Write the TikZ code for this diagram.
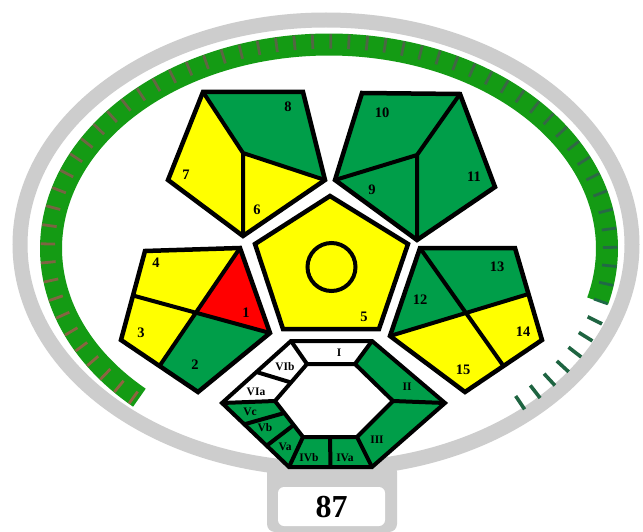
\documentclass[tikz,border=0pt]{standalone}
\usepackage{fontspec}
\setmainfont{Liberation Serif}
\usetikzlibrary{decorations.markings,calc}
\definecolor{cyel}{RGB}{255,255,0}
\definecolor{cgrn}{RGB}{0,158,73}
\definecolor{cred}{RGB}{255,0,0}
\definecolor{bandgreen}{RGB}{20,155,20}
\definecolor{ringgray}{RGB}{205,205,205}
\definecolor{tickL}{RGB}{145,100,65}
\definecolor{tickR}{RGB}{30,105,70}
\definecolor{sepgreen}{RGB}{30,100,65}
\begin{document}
\begin{tikzpicture}[x=1pt,y=-1pt,
  seg/.style={draw=black,line width=4.5pt,line join=miter},
  inl/.style={draw=black,line width=4pt},
  hseg/.style={draw=black,line width=4pt,line join=miter},
  lbl/.style={font=\bfseries\fontsize{14.5}{14.5}\selectfont,inner sep=0pt},
  hlbl/.style={font=\bfseries\fontsize{11.5}{11.5}\selectfont,inner sep=0pt}]
\useasboundingbox (0,0) rectangle (643,532);
\fill[white] (0,0) rectangle (643,532);

% outer gray ring and score box
\draw[ringgray,line width=15pt] (326,244.5) ellipse [x radius=306, y radius=224.5];
\fill[ringgray,rounded corners=8pt] (267,464) rectangle (397,532);
\fill[white,rounded corners=6pt] (278,487) rectangle (385,526);
\node[font=\bfseries\fontsize{32}{32}\selectfont,inner sep=0pt] (score) at (331.5,507) {87};

% green band with ticks
\draw[bandgreen,line width=22pt,
  postaction={decorate,decoration={markings,
    mark=between positions 5pt and 1 step 18pt with {
      \pgfmathsetmacro\tp{min(100,max(0,(\pgfkeysvalueof{/pgf/decoration/mark info/distance from start}/\pgfdecoratedpathlength)*100))}
      \draw[line width=2.8pt,draw=tickR!\tp!tickL] (0pt,-4pt) -- (0pt,10.5pt);}}}]
  plot[domain=0:1,samples=241,variable=\s] ({329+278*cos(227-242*\s)},{248.5-204*sin(227-242*\s)});
% separate ticks
\path[decorate,decoration={markings,
    mark=between positions 18.3pt and 1 step 18.3pt with {
      \draw[line width=3.6pt,sepgreen] (0pt,-3pt) -- (0pt,13pt);}}]
  plot[domain=0:1,samples=61,variable=\s] ({329+278*cos(-15-35*\s)},{248.5-204*sin(-15-35*\s)});

% ---------- pentagon 6-8 ----------
\coordinate (a1) at (203,92); \coordinate (b1) at (303,92); \coordinate (c1) at (325,180);
\coordinate (d1) at (243,236); \coordinate (e1) at (168,180); \coordinate (o1) at (243,153);
\fill[cgrn] (a1)--(b1)--(c1)--(o1)--cycle;
\fill[cyel] (a1)--(o1)--(d1)--(e1)--cycle;
\fill[cyel] (o1)--(c1)--(d1)--cycle;
\draw[inl] (a1)--(o1)--(c1) (o1)--(d1);
\draw[seg] (a1)--(b1)--(c1)--(d1)--(e1)--cycle;
\node[lbl] (n8) at (288,107) {8};
\node[lbl] (n7) at (186,175) {7};
\node[lbl] (n6) at (257,210) {6};

% ---------- pentagon 9-11 ----------
\coordinate (a2) at (362,93); \coordinate (b2) at (460,94); \coordinate (c2) at (495,187);
\coordinate (d2) at (417,240); \coordinate (e2) at (335,180); \coordinate (o2) at (417,155);
\fill[cgrn] (a2)--(b2)--(c2)--(d2)--(e2)--cycle;
\draw[inl] (b2)--(o2)--(e2) (o2)--(d2);
\draw[seg] (a2)--(b2)--(c2)--(d2)--(e2)--cycle;
\node[lbl] (n10) at (382,113) {10};
\node[lbl] (n11) at (474,177) {11};
\node[lbl] (n9) at (372,190) {9};

% ---------- pentagon 1-4 ----------
\coordinate (a3) at (145,251); \coordinate (b3) at (240,248); \coordinate (c3) at (270,333);
\coordinate (d3) at (198,392); \coordinate (e3) at (121,340);
\coordinate (p3) at ($(a3)!0.5!(e3)$); \coordinate (q3) at ($(e3)!0.5!(d3)$);
\coordinate (o3) at (intersection of b3--q3 and c3--p3);
\fill[cred] (b3)--(c3)--(o3)--cycle;
\fill[cgrn] (o3)--(c3)--(d3)--(q3)--cycle;
\fill[cyel] (p3)--(o3)--(q3)--(e3)--cycle;
\fill[cyel] (a3)--(b3)--(o3)--(p3)--cycle;
\draw[inl] (b3)--(q3) (c3)--(p3);
\draw[seg] (a3)--(b3)--(c3)--(d3)--(e3)--cycle;
\node[lbl] (n4) at (156,263) {4};
\node[lbl] (n3) at (141,333) {3};
\node[lbl] (n1) at (246,313) {1};
\node[lbl] (n2) at (195,365) {2};

% ---------- pentagon 12-15 ----------
\coordinate (a4) at (420,248); \coordinate (b4) at (515,248); \coordinate (c4) at (542,340);
\coordinate (d4) at (465,392); \coordinate (e4) at (390,336);
\coordinate (m4) at ($(b4)!0.5!(c4)$); \coordinate (k4) at ($(c4)!0.5!(d4)$);
\coordinate (o4) at (intersection of a4--k4 and e4--m4);
\fill[cgrn] (a4)--(o4)--(e4)--cycle;
\fill[cgrn] (a4)--(b4)--(m4)--(o4)--cycle;
\fill[cyel] (o4)--(m4)--(c4)--(k4)--cycle;
\fill[cyel] (e4)--(o4)--(k4)--(d4)--cycle;
\draw[inl] (a4)--(k4) (e4)--(m4);
\draw[seg] (a4)--(b4)--(c4)--(d4)--(e4)--cycle;
\node[lbl] (n13) at (497,267) {13};
\node[lbl] (n12) at (420,300) {12};
\node[lbl] (n14) at (523,332) {14};
\node[lbl] (n15) at (463,370) {15};

% ---------- centre pentagon 5 ----------
\filldraw[fill=cyel,seg] (330,196)--(408,244)--(379,329)--(283,329)--(255,244)--cycle;
\draw[line width=4pt] (331.5,267) circle[radius=24];
\node[lbl] (n5) at (364,317) {5};

% ---------- hexagon ----------
\coordinate (OTL) at (291,341); \coordinate (OTR) at (372,341); \coordinate (OR) at (445,403);
\coordinate (OBR) at (372,467); \coordinate (OBL) at (289,467); \coordinate (OL) at (222,403);
\coordinate (ITL) at (307,364); \coordinate (ITR) at (355,364); \coordinate (IR) at (393,401);
\coordinate (IBR) at (357,437); \coordinate (IBL) at (303,437); \coordinate (IL) at (275,401);
\coordinate (Mo) at ($(OBL)!0.5!(OBR)$); \coordinate (Mi) at ($(IBL)!0.5!(IBR)$);
\coordinate (V1o) at ($(OBL)!0.333!(OL)$); \coordinate (V2o) at ($(OBL)!0.667!(OL)$);
\coordinate (V1i) at ($(IBL)!0.333!(IL)$); \coordinate (V2i) at ($(IBL)!0.667!(IL)$);
\coordinate (Wo) at ($(OL)!0.5!(OTL)$); \coordinate (Wi) at ($(IL)!0.5!(ITL)$);
\fill[white] (OTL)--(OTR)--(OR)--(OBR)--(OBL)--(OL)--cycle;
\fill[cgrn] (OTR)--(OR)--(OBR)--(OBL)--(OL)--(IL)--(IBL)--(IBR)--(IR)--(ITR)--cycle;
\draw[inl] (OTL)--(ITL) (OTR)--(ITR) (OR)--(IR) (OBR)--(IBR) (OBL)--(IBL) (OL)--(IL)
  (Mo)--(Mi) (V1o)--(V1i) (V2o)--(V2i) (Wo)--(Wi);
\draw[hseg] (OTL)--(OTR)--(OR)--(OBR)--(OBL)--(OL)--cycle;
\draw[hseg] (ITL)--(ITR)--(IR)--(IBR)--(IBL)--(IL)--cycle;
\node[hlbl] (hI) at (339,353) {I};
\node[hlbl] (hII) at (407,387) {II};
\node[hlbl] (hIII) at (377,440) {III};
\node[hlbl] (hIVa) at (345,458) {IVa};
\node[hlbl] (hIVb) at (309,458) {IVb};
\node[hlbl] (hVa) at (285,447) {Va};
\node[hlbl] (hVb) at (265,428) {Vb};
\node[hlbl] (hVc) at (250,412) {Vc};
\node[hlbl] (hVIa) at (256,392) {VIa};
\node[hlbl] (hVIb) at (285,367) {VIb};
\end{tikzpicture}
\end{document}
